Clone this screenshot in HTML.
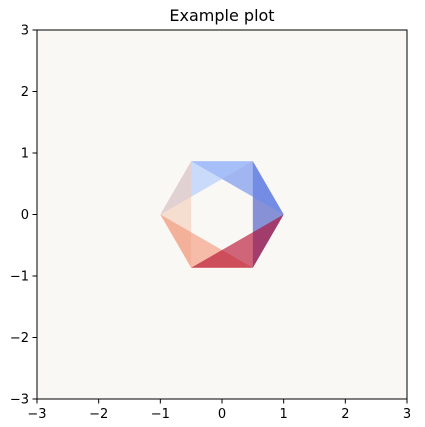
<!DOCTYPE html>
<html><head><meta charset="utf-8"><style>
body{margin:0;background:#fff;}
svg{display:block;font-family:"DejaVu Sans","Liberation Sans",sans-serif;}
</style></head><body>
<svg id="chart" width="425" height="427">
<rect x="0" y="0" width="425" height="427" fill="#fff"/>
<rect x="37" y="30" width="370" height="369" fill="#faf8f4"/>
<g id="tris"></g>
<rect x="37" y="30" width="370" height="369" fill="none" stroke="#000" stroke-width="1"/>
<g id="xt"></g>
<g id="yt"></g>
<text x="222" y="21" text-anchor="middle" font-size="16">Example plot</text>
</svg>
<script>
const xTicks=[-3,-2,-1,0,1,2,3];
const yTicks=[-3,-2,-1,0,1,2,3];
const triVertsX=[[0.5,1,0.5],[-0.5,0.5,1],[-1,-0.5,0.5],[-0.5,-1,-0.5],[-1,-0.5,0.5],[1,0.5,-0.5]];
const triVertsY=[[0.866,0,-0.866],[0.866,0.866,0],[0,0.866,0.866],[-0.866,0,0.866],[0,-0.866,-0.866],[0,-0.866,-0.866]];
const triValues=[0,0.2,0.4,0.6,0.8,1.0];
const cmapStops=[[59,76,192],[102,136,238],[170,199,253],[242,203,183],[243,148,117],[180,4,38]];
const sx=v=>37+(v+3)/6*370, sy=v=>399-(v+3)/6*369;
function cmap(v){const t=v*5,i=Math.min(4,Math.floor(t)),f=t-i;const a=cmapStops[i],b=cmapStops[i+1];
return `rgb(${a.map((c,k)=>Math.round(c+(b[k]-c)*f)).join(',')})`;}
const NS="http://www.w3.org/2000/svg";
const tg=document.getElementById('tris');
triValues.forEach((v,i)=>{const p=document.createElementNS(NS,'polygon');
p.setAttribute('points',triVertsX[i].map((x,k)=>sx(x)+','+sy(triVertsY[i][k])).join(' '));
p.setAttribute('fill',cmap(v));p.setAttribute('fill-opacity','0.6');


tg.appendChild(p);});
const xg=document.getElementById('xt'),yg=document.getElementById('yt');
const lab=v=>v<0?'\u2212'+(-v):''+v;
xTicks.forEach(v=>{const x=sx(v);
const l=document.createElementNS(NS,'line');l.setAttribute('x1',x);l.setAttribute('x2',x);l.setAttribute('y1',399);l.setAttribute('y2',403.5);l.setAttribute('stroke','#000');


xg.appendChild(l);
const t=document.createElementNS(NS,'text');t.setAttribute('x',x);t.setAttribute('y',418);t.setAttribute('text-anchor','middle');t.setAttribute('font-size','13');t.textContent=lab(v);


xg.appendChild(t);});
yTicks.forEach(v=>{const y=sy(v);
const l=document.createElementNS(NS,'line');l.setAttribute('x1',32.5);l.setAttribute('x2',37);l.setAttribute('y1',y);l.setAttribute('y2',y);l.setAttribute('stroke','#000');


yg.appendChild(l);
const t=document.createElementNS(NS,'text');t.setAttribute('x',29);t.setAttribute('y',y+4.5);t.setAttribute('text-anchor','end');t.setAttribute('font-size','13');t.textContent=lab(v);


yg.appendChild(t);});
</script>
</body></html>
